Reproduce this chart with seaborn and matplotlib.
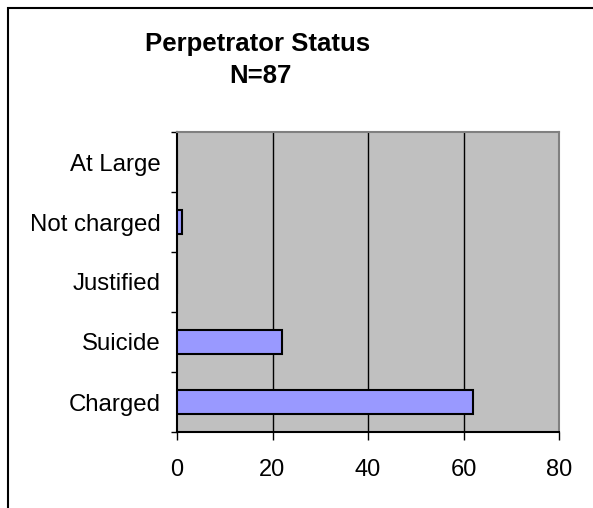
import numpy as np
import pandas as pd
import matplotlib
matplotlib.use("Agg")
import matplotlib.pyplot as plt
from matplotlib.patches import Rectangle
import seaborn as sns

# data
categories = ["At Large", "Not charged", "Justified", "Suicide", "Charged"]
counts = [0, 1, 0, 22, 62]
x_ticks = [0, 20, 40, 60, 80]

sns.set_style("white")
plt.rcParams['font.family'] = ['Liberation Sans', 'DejaVu Sans']
plt.rcParams['text.color'] = 'black'
plt.rcParams['xtick.color'] = 'black'
plt.rcParams['ytick.color'] = 'black'

df = pd.DataFrame({"Status": categories, "Count": counts})

fig = plt.figure(figsize=(5.93, 5.08), dpi=100)
ax = fig.add_axes([177/593, 1 - 432/508, (559 - 177)/593, (432 - 132)/508])
ax.set_facecolor("#C0C0C0")

sns.barplot(data=df, x="Count", y="Status", order=categories, color="#9999FF",
            saturation=1, edgecolor="black", linewidth=1.5, width=0.4, ax=ax, zorder=3)

ax.set_xlim(0, 80)
ax.set_ylim(4.5, -0.5)
ax.set_xticks(x_ticks)
ax.set_xticklabels([str(t) for t in x_ticks])
for v in x_ticks[1:-1]:
    ax.axvline(v, color="black", linewidth=1, zorder=1)

# category labels between boundary ticks, like Excel
ax.set_yticks(range(len(categories)))
ax.set_yticklabels(categories)
ax.set_yticks(np.arange(-0.5, len(categories)), minor=True)
ax.tick_params(axis="y", which="major", length=0, pad=12, labelsize=17.3, labelcolor="black")
ax.tick_params(axis="y", which="minor", length=4.5, width=1, color="black", direction="out", left=True)
ax.tick_params(axis="x", length=5.5, width=1, color="black", direction="out", bottom=True,
               pad=14, labelsize=17, labelcolor="black")

ax.set_xlabel("")
ax.set_ylabel("")
ax.grid(False)
for side in ["left", "bottom"]:
    ax.spines[side].set_color("black")
    ax.spines[side].set_linewidth(1.5)
for side in ["top", "right"]:
    ax.spines[side].set_color("#808080")
    ax.spines[side].set_linewidth(1.5)

fig.text(258/593, 1 - 51/508, "Perpetrator Status", ha="center", va="baseline",
         fontsize=18.5, fontweight="bold", color="black")
fig.text(260/593, 1 - 83/508, "N=87", ha="center", va="baseline",
         fontsize=18.5, fontweight="bold", color="black")

# chart area border (runs off the image at right and bottom)
fig.add_artist(Rectangle((8/593, -0.1), 1.2, 1.1 - 8/508, transform=fig.transFigure,
                         fill=False, edgecolor="black", linewidth=1.5))

fig.savefig("out.png", dpi=100)
